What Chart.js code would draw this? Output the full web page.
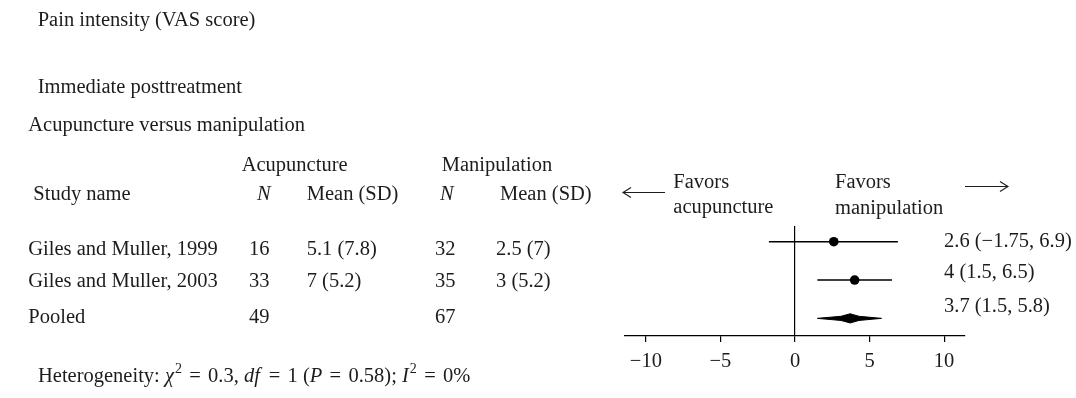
<!DOCTYPE html>
<html>
<head>
<meta charset="utf-8">
<title>Pain intensity forest plot</title>
<script src="https://cdn.jsdelivr.net/npm/chart.js@4/dist/chart.umd.min.js"></script>
<style>
  html, body { margin: 0; padding: 0; background: #ffffff; }
  #wrap { width: 1076px; height: 398px; }
</style>
</head>
<body>
<div id="wrap"><canvas id="forest" width="1076" height="398"></canvas></div>
<script>
// Studies and summary statistics
const studies = ['Giles and Muller, 1999', 'Giles and Muller, 2003', 'Pooled'];
const acupunctureN = [16, 33, 49];
const acupunctureMeanSD = ['5.1 (7.8)', '7 (5.2)', ''];
const manipulationN = [32, 35, 67];
const manipulationMeanSD = ['2.5 (7)', '3 (5.2)', ''];

// Mean difference with 95% CI (last entry is the pooled estimate)
const effect = [2.6, 4, 3.7];
const ciLow = [-1.75, 1.5, 1.5];
const ciHigh = [6.9, 6.5, 5.8];

// Axis ticks
const xTicks = [-10, -5, 0, 5, 10];

const SERIF = '"Liberation Serif", "Times New Roman", serif';
const INK = '#1e1b1c';
const FS = 20.5;

const fmt = v => (v < 0 ? '\u2212' : '') + Math.abs(v);
const pooled = effect.length - 1;

// CI whiskers for individual studies
const ciSets = studies.slice(0, pooled).map((s, i) => ({
  type: 'scatter',
  data: [{ x: ciLow[i], y: i }, { x: ciHigh[i], y: i }],
  showLine: true,
  borderColor: '#000',
  borderWidth: 1.4,
  pointRadius: 0,
  fill: false
}));

// Point estimates for individual studies
const pointSet = {
  type: 'scatter',
  data: effect.slice(0, pooled).map((v, i) => ({ x: v, y: i })),
  showLine: false,
  pointRadius: 4.8,
  pointBackgroundColor: '#000',
  pointBorderWidth: 0
};

// Pooled diamond, built as an upper and lower outline filled between
const dh = 0.12;
function diamondHalf(sign) {
  const lo = ciLow[pooled], hi = ciHigh[pooled], c = effect[pooled];
  return [
    { x: lo, y: pooled },
    { x: lo + (c - lo) * 0.72, y: pooled + sign * dh * 0.45 },
    { x: c, y: pooled + sign * dh },
    { x: c + (hi - c) * 0.28, y: pooled + sign * dh * 0.45 },
    { x: hi, y: pooled }
  ];
}
const diamondTop = {
  type: 'scatter',
  data: diamondHalf(-1),
  showLine: true,
  borderColor: '#000',
  borderWidth: 1,
  pointRadius: 0,
  backgroundColor: '#000',
  fill: '+1'
};
const diamondBottom = {
  type: 'scatter',
  data: diamondHalf(1),
  showLine: true,
  borderColor: '#000',
  borderWidth: 1,
  pointRadius: 0,
  fill: false
};

function text(ctx, str, x, y, opts = {}) {
  ctx.font = `${opts.italic ? 'italic ' : ''}${opts.size || FS}px ${SERIF}`;
  ctx.fillText(str, x, y);
  return ctx.measureText(str).width;
}

function arrow(ctx, x1, x2, y, headAtLeft) {
  ctx.beginPath();
  ctx.moveTo(x1, y);
  ctx.lineTo(x2, y);
  const hx = headAtLeft ? x1 : x2;
  const d = headAtLeft ? 8 : -8;
  ctx.moveTo(hx + d, y - 5);
  ctx.lineTo(hx, y);
  ctx.lineTo(hx + d, y + 5);
  ctx.stroke();
}

// Table, headings and annotations drawn around the plot area
const tablePlugin = {
  id: 'forestTable',
  afterDraw(chart) {
    const ctx = chart.ctx;
    ctx.save();
    ctx.fillStyle = INK;
    ctx.strokeStyle = INK;
    ctx.lineWidth = 1.1;
    ctx.textBaseline = 'alphabetic';
    ctx.textAlign = 'left';

    text(ctx, 'Pain intensity (VAS score)', 37.7, 26);
    text(ctx, 'Immediate posttreatment', 37.7, 92.7);
    text(ctx, 'Acupuncture versus manipulation', 28.3, 131);

    text(ctx, 'Acupuncture', 241.7, 170.7);
    text(ctx, 'Manipulation', 441.7, 170.7);
    text(ctx, 'Study name', 33.3, 200);
    text(ctx, 'N', 257, 200, { italic: true });
    text(ctx, 'Mean (SD)', 306.7, 200);
    text(ctx, 'N', 440, 200, { italic: true });
    text(ctx, 'Mean (SD)', 500, 200);

    const rowBase = [255.3, 286.7, 323.3];
    studies.forEach((s, i) => {
      const y = rowBase[i];
      text(ctx, s, 28.3, y);
      text(ctx, String(acupunctureN[i]), 249, y);
      if (acupunctureMeanSD[i]) text(ctx, acupunctureMeanSD[i], 306.7, y);
      text(ctx, String(manipulationN[i]), 435, y);
      if (manipulationMeanSD[i]) text(ctx, manipulationMeanSD[i], 496, y);
    });

    // Effect estimates to the right of the plot
    const labelBase = [247.3, 278.3, 311.7];
    effect.forEach((v, i) => {
      text(ctx, `${fmt(v)} (${fmt(ciLow[i])}, ${fmt(ciHigh[i])})`, 944, labelBase[i]);
    });

    // Direction labels
    arrow(ctx, 623, 665, 192.5, true);
    text(ctx, 'Favors', 673.3, 188.3);
    text(ctx, 'acupuncture', 673.3, 213.3);
    text(ctx, 'Favors', 835, 188.3);
    text(ctx, 'manipulation', 835, 214);
    arrow(ctx, 965, 1008, 186.5, false);

    // Heterogeneity statistics, with math spacing around the equals signs
    const y = 382;
    const gap = 7.3;
    let x = 38;
    const eq = () => { x += gap; x += text(ctx, '=', x, y); x += gap; };
    const sup = s => { x += 1; x += text(ctx, s, x, y - 9, { size: 14 }); };
    x += text(ctx, 'Heterogeneity: ', x, y);
    x += text(ctx, '\u03C7', x, y, { italic: true });
    sup('2');
    eq();
    x += text(ctx, '0.3, ', x, y);
    x += text(ctx, 'df', x, y, { italic: true });
    x += 1.5;
    eq();
    x += text(ctx, '1 (', x, y);
    x += text(ctx, 'P', x, y, { italic: true });
    eq();
    x += text(ctx, '0.58); ', x, y);
    x += text(ctx, 'I', x, y, { italic: true });
    sup('2');
    eq();
    text(ctx, '0%', x, y);

    ctx.restore();
  }
};

new Chart(document.getElementById('forest'), {
  type: 'scatter',
  data: { datasets: [...ciSets, pointSet, diamondTop, diamondBottom] },
  options: {
    responsive: false,
    animation: false,
    events: [],
    layout: { padding: { left: 625, right: 111, top: 226, bottom: 0 } },
    plugins: { legend: { display: false }, tooltip: { enabled: false } },
    scales: {
      x: {
        type: 'linear',
        min: -11.4,
        max: 11.4,
        afterBuildTicks: scale => { scale.ticks = xTicks.map(v => ({ value: v })); },
        afterFit: scale => { scale.height = 62; },
        border: { display: true, color: '#000', width: 1.2 },
        grid: {
          drawOnChartArea: true,
          color: c => (c.tick && c.tick.value === 0 ? '#000' : 'rgba(0,0,0,0)'),
          lineWidth: 1.2,
          tickColor: '#000',
          tickLength: 6
        },
        ticks: {
          color: INK,
          padding: 7,
          font: { family: SERIF, size: FS },
          callback: v => fmt(v)
        }
      },
      y: {
        type: 'linear',
        display: false,
        reverse: true,
        min: -0.41,
        max: 2.46
      }
    }
  },
  plugins: [tablePlugin]
});
</script>
</body>
</html>
